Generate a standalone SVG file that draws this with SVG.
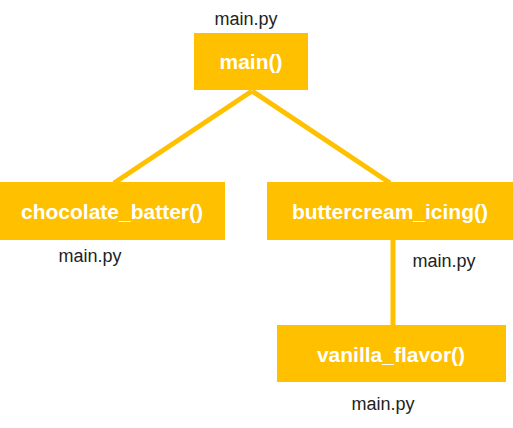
<svg xmlns="http://www.w3.org/2000/svg" width="513" height="428" viewBox="0 0 513 428">
<style>
.box{fill:#FFC000}
.lbl{fill:#FFFFFF;font-family:"Liberation Sans",Arial,sans-serif;font-weight:bold;font-size:21px;text-anchor:middle}
.file{fill:#222222;font-family:"Liberation Sans",Arial,sans-serif;font-size:18px;text-anchor:middle}
.edge{stroke:#FFC000;stroke-width:5;fill:none}
</style>
<rect width="513" height="428" fill="#FFFFFF"/>
<g id="connectors">
<line class="edge" x1="252" y1="91" x2="114" y2="183"/>
<line class="edge" x1="252" y1="91" x2="390" y2="183"/>
<line class="edge" x1="393" y1="239" x2="393" y2="326"/>
</g>
<g id="main">
<text class="file" x="246" y="25">main.py</text>
<rect class="box" x="194" y="33" width="114" height="57"/>
<text class="lbl" x="251" y="69">main()</text>
</g>
<g id="chocolate_batter">
<rect class="box" x="0" y="182" width="225" height="58"/>
<text class="lbl" x="112" y="219">chocolate_batter()</text>
<text class="file" x="90" y="262">main.py</text>
</g>
<g id="buttercream_icing">
<rect class="box" x="267" y="182" width="246" height="58"/>
<text class="lbl" x="390" y="219">buttercream_icing()</text>
<text class="file" x="444" y="267">main.py</text>
</g>
<g id="vanilla_flavor">
<rect class="box" x="277" y="325" width="229" height="57"/>
<text class="lbl" x="391" y="362">vanilla_flavor()</text>
<text class="file" x="383" y="410">main.py</text>
</g>
</svg>
